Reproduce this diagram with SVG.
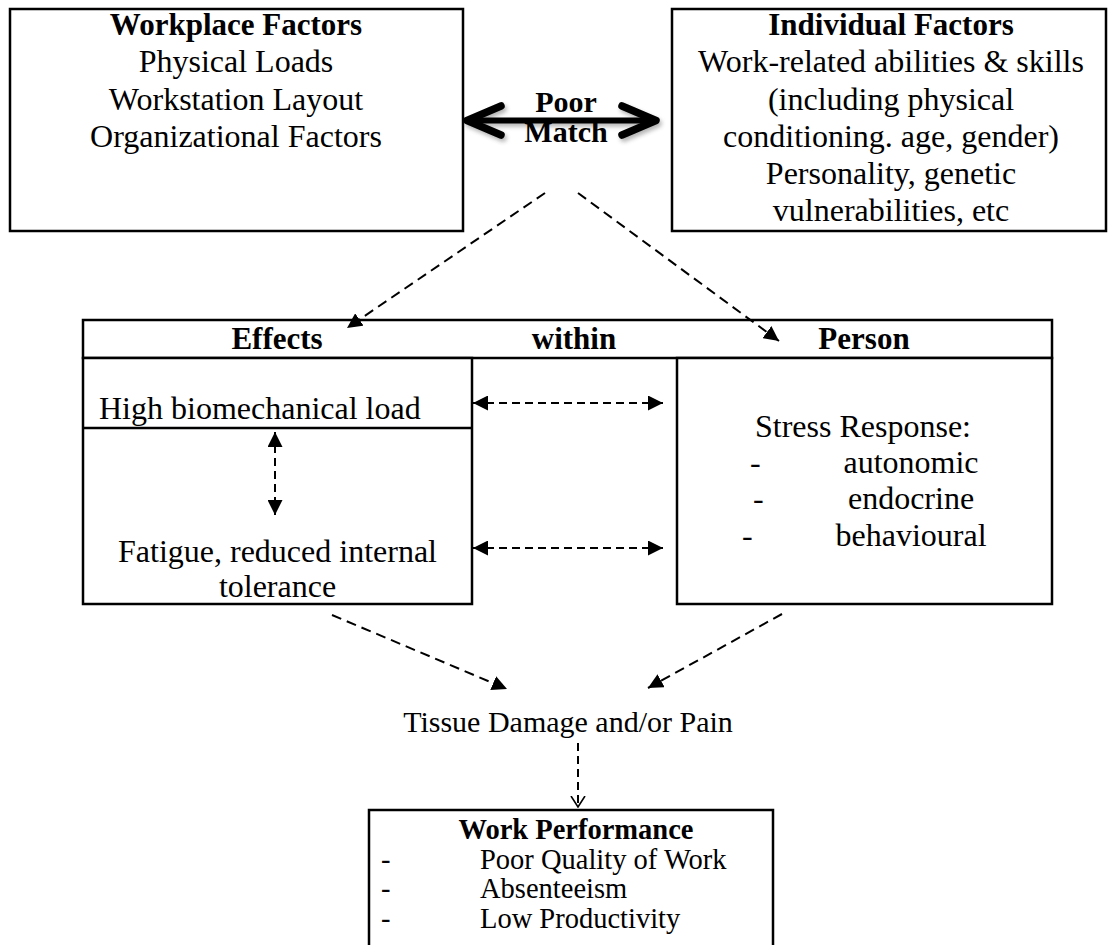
<svg xmlns="http://www.w3.org/2000/svg" width="1119" height="945" viewBox="0 0 1119 945">
<style>
.t{font-family:"Liberation Serif","Times New Roman",serif;font-size:32px;fill:#000}
.b{font-weight:bold;font-size:31px}
.c{text-anchor:middle}
.s{font-size:30px}
.m{font-size:28.5px}
.box{fill:#fff;stroke:#000;stroke-width:2.5}
.dash{fill:none;stroke:#000;stroke-width:2;stroke-dasharray:10 6}
.dash2{fill:none;stroke:#000;stroke-width:2;stroke-dasharray:8 5}
</style>
<defs>
<marker id="tri" viewBox="0 0 14 14" refX="14" refY="7" markerWidth="15" markerHeight="15" markerUnits="userSpaceOnUse" orient="auto-start-reverse">
<path d="M0,0 L14,7 L0,14 z" fill="#000"/>
</marker>
<marker id="vee" viewBox="0 0 12 16" refX="11" refY="8" markerWidth="12" markerHeight="16" markerUnits="userSpaceOnUse" orient="auto">
<path d="M0,1 L11,8 L0,15" fill="none" stroke="#000" stroke-width="1.6"/>
</marker>
<filter id="blur" x="-20%" y="-50%" width="140%" height="200%"><feGaussianBlur stdDeviation="2.2"/></filter>
</defs>

<g id="workplace">
<rect class="box" x="10" y="9" width="453" height="222"/>
<text class="t b c" x="236" y="35">Workplace Factors</text>
<text class="t c" x="236" y="72">Physical Loads</text>
<text class="t c" x="236" y="110">Workstation Layout</text>
<text class="t c" x="236" y="147">Organizational Factors</text>
</g>

<g id="individual">
<rect class="box" x="672" y="9" width="434" height="222"/>
<text class="t b c" x="891" y="35">Individual Factors</text>
<text class="t c" x="891" y="72">Work-related abilities &amp; skills</text>
<text class="t c" x="891" y="110">(including physical</text>
<text class="t c" x="891" y="147">conditioning. age, gender)</text>
<text class="t c" x="891" y="184">Personality, genetic</text>
<text class="t c" x="891" y="221">vulnerabilities, etc</text>
</g>

<g id="poor-match">
<g filter="url(#blur)" opacity="0.55" stroke="#777" fill="none" stroke-linecap="round" stroke-linejoin="round" transform="translate(2,3)">
<path d="M470,120.5 L652,120.5" stroke-width="6"/>
<path d="M501,106 L467,120.5 L501,135" stroke-width="7.5"/>
<path d="M622,106 L656,120.5 L622,135" stroke-width="7.5"/>
</g>
<g stroke="#000" fill="none" stroke-linecap="round" stroke-linejoin="round">
<path d="M470,120.5 L652,120.5" stroke-width="6"/>
<path d="M501,106 L467,120.5 L501,135" stroke-width="7.5"/>
<path d="M622,106 L656,120.5 L622,135" stroke-width="7.5"/>
</g>
<text class="t b c" x="566" y="112" style="font-size:30px">Poor</text>
<text class="t b c" x="566" y="142" style="font-size:30px">Match</text>
</g>

<g id="effects-header">
<rect class="box" x="83" y="320" width="969" height="38"/>
<text class="t b c" x="277" y="349">Effects</text>
<text class="t b c" x="574" y="349">within</text>
<text class="t b c" x="864" y="349">Person</text>
</g>

<g id="physical-effects">
<rect class="box" x="83" y="358" width="389" height="246"/>
<line x1="83" y1="428" x2="472" y2="428" stroke="#000" stroke-width="2.5"/>
<text class="t" x="99" y="419">High biomechanical load</text>
<text class="t c" x="277.5" y="562">Fatigue, reduced internal</text>
<text class="t c" x="277.5" y="597">tolerance</text>
</g>

<g id="stress-response">
<rect class="box" x="677" y="358" width="375" height="246"/>
<text class="t c" x="863" y="437">Stress Response:</text>
<text class="t" x="750" y="473">-</text>
<text class="t c" x="911" y="473">autonomic</text>
<text class="t" x="753" y="509">-</text>
<text class="t c" x="911" y="509">endocrine</text>
<text class="t" x="742" y="546">-</text>
<text class="t c" x="911" y="546">behavioural</text>
</g>

<g id="tissue">
<text class="t s c" x="568" y="732">Tissue Damage and/or Pain</text>
</g>

<g id="work-performance">
<rect class="box" x="369" y="810" width="404" height="150"/>
<text class="t b c" x="576" y="839" style="font-size:28.5px">Work Performance</text>
<text class="t m" x="381" y="869">-</text>
<text class="t m" x="480" y="869">Poor Quality of Work</text>
<text class="t m" x="381" y="898">-</text>
<text class="t m" x="480" y="898">Absenteeism</text>
<text class="t m" x="381" y="928">-</text>
<text class="t m" x="480" y="928">Low Productivity</text>
</g>

<g id="connectors">
<line class="dash" x1="545" y1="193" x2="347" y2="328" marker-end="url(#tri)"/>
<line class="dash" x1="578" y1="193" x2="779" y2="341" marker-end="url(#tri)"/>
<line class="dash2" x1="275" y1="432" x2="275" y2="515" marker-start="url(#tri)" marker-end="url(#tri)"/>
<line class="dash2" x1="473" y1="403" x2="663" y2="403" marker-start="url(#tri)" marker-end="url(#tri)"/>
<line class="dash2" x1="473" y1="548" x2="663" y2="548" marker-start="url(#tri)" marker-end="url(#tri)"/>
<line class="dash" x1="332" y1="615" x2="507" y2="689" marker-end="url(#tri)"/>
<line class="dash" x1="782" y1="614" x2="648" y2="688" marker-end="url(#tri)"/>
<line class="dash2" x1="578" y1="743" x2="578" y2="807" stroke-dasharray="7 4" marker-end="url(#vee)"/>
</g>
</svg>
